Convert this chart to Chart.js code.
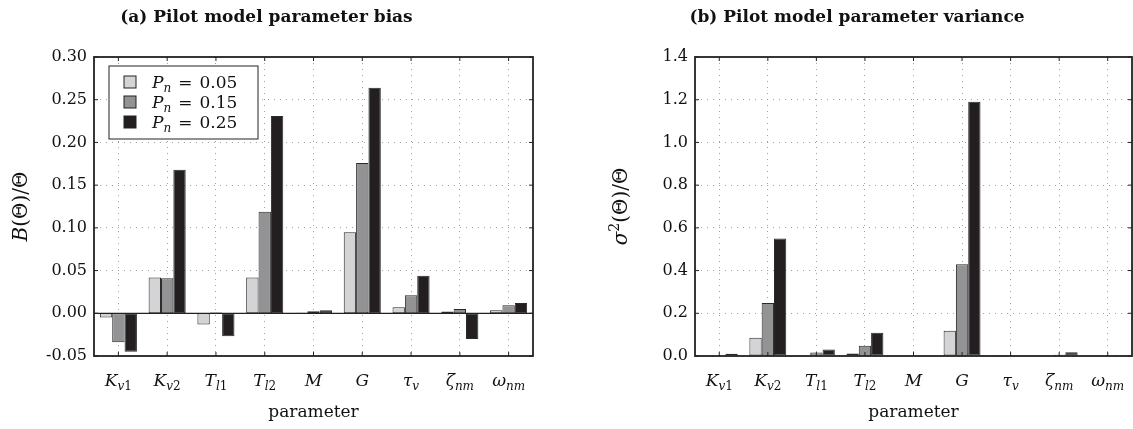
<!DOCTYPE html>
<html>
<head>
<meta charset="utf-8">
<script src="https://cdn.jsdelivr.net/npm/chart.js@4.4.1/dist/chart.umd.min.js"></script>
<style>
html, body { margin: 0; padding: 0; background: #fff; }
#wrap { position: relative; width: 1133px; height: 429px; }
.box { position: absolute; top: 0; height: 429px; }
</style>
</head>
<body>
<div id="wrap">
  <div class="box" style="left:0;width:566px"><canvas id="bias"></canvas></div>
  <div class="box" style="left:566px;width:567px"><canvas id="variance"></canvas></div>
</div>
<script>
// parameter names, split into symbol + subscript
const labelMain = ['K', 'K', 'T', 'T', 'M', 'G', 'τ', 'ζ', 'ω']
const labelSub = ['v1', 'v2', 'l1', 'l2', '', '', 'v', 'nm', 'nm']
const pnValues = ['0.05', '0.15', '0.25']
const barColors = ['#d4d4d6', '#939396', '#231f20']

// (a) bias, normalised
const bias05 = [-0.005, 0.042, -0.013, 0.042, 0.0005, 0.095, 0.007, 0.002, 0.0035]
const bias15 = [-0.034, 0.041, 0.001, 0.119, 0.0025, 0.176, 0.021, 0.005, 0.0095]
const bias25 = [-0.045, 0.168, -0.027, 0.231, 0.0035, 0.264, 0.044, -0.030, 0.012]

// (b) variance, normalised
const var05 = [0.001, 0.085, 0.003, 0.012, 0.001, 0.118, 0.0005, 0.002, 0.001]
const var15 = [0.004, 0.248, 0.016, 0.048, 0.002, 0.43, 0.001, 0.006, 0.002]
const var25 = [0.010, 0.55, 0.030, 0.109, 0.001, 1.19, 0.001, 0.017, 0.005]

const SERIF = '"DejaVu Serif", "Liberation Serif", serif'

function font(seg) {
  return (seg.it ? 'italic ' : '') + (seg.s || 17) + 'px ' + SERIF
}

// draw a list of text pieces (italic / sub / sup) in a row
function richWidth(ctx, segs) {
  let w = 0
  segs.forEach(s => { ctx.font = font(s); w += ctx.measureText(s.t).width + (s.gap || 0) })
  return w
}
function drawRich(ctx, segs, x, y, align) {
  let w = richWidth(ctx, segs)
  let cx = align === 'center' ? x - w / 2 : x
  ctx.textAlign = 'left'
  ctx.textBaseline = 'alphabetic'
  segs.forEach(s => {
    ctx.font = font(s)
    ctx.fillText(s.t, cx, y + (s.dy || 0))
    cx += ctx.measureText(s.t).width + (s.gap || 0)
  })
}

function tickSegs(i) {
  let segs = [{ t: labelMain[i], it: true, s: 17 }]
  for (const ch of labelSub[i]) {
    segs.push({ t: ch, it: /[a-z]/.test(ch), s: 12, dy: 4 })
  }
  return segs
}

const decor = {
  id: 'decor',
  afterDatasetsDraw(chart, args, opts) {
    const ctx = chart.ctx
    const a = chart.chartArea
    const y = chart.scales.y
    const x = chart.scales.x
    ctx.save()
    ctx.strokeStyle = '#222'
    ctx.lineWidth = 1
    // inner tick marks
    y.ticks.forEach(t => {
      const py = y.getPixelForValue(t.value)
      ctx.beginPath()
      ctx.moveTo(a.left, py); ctx.lineTo(a.left + 4, py)
      ctx.moveTo(a.right, py); ctx.lineTo(a.right - 4, py)
      ctx.stroke()
    })
    x.ticks.forEach((t, i) => {
      const px = x.getPixelForTick(i)
      ctx.beginPath()
      ctx.moveTo(px, a.top); ctx.lineTo(px, a.top + 4)
      ctx.moveTo(px, a.bottom); ctx.lineTo(px, a.bottom - 4)
      ctx.stroke()
    })
    if (opts.zeroLine) {
      const py = y.getPixelForValue(0)
      ctx.lineWidth = 1.3
      ctx.beginPath(); ctx.moveTo(a.left, py); ctx.lineTo(a.right, py); ctx.stroke()
    }
    ctx.lineWidth = 1.8
    ctx.strokeRect(a.left, a.top, a.right - a.left, a.bottom - a.top)
    ctx.restore()
  },
  afterDraw(chart, args, opts) {
    const ctx = chart.ctx
    const a = chart.chartArea
    const x = chart.scales.x
    ctx.save()
    ctx.fillStyle = '#111'
    // category labels with subscripts
    x.ticks.forEach((t, i) => {
      drawRich(ctx, tickSegs(i), x.getPixelForTick(i), a.bottom + 30, 'center')
    })
    // rotated y title
    ctx.save()
    ctx.translate(opts.yTitleX, (a.top + a.bottom) / 2)
    ctx.rotate(-Math.PI / 2)
    drawRich(ctx, opts.yTitle, 0, 7, 'center')
    ctx.restore()
    // legend in the upper left corner
    if (opts.legend) {
      const lx = a.left + 15, ly = a.top + 9
      ctx.fillStyle = '#fff'
      ctx.fillRect(lx, ly, 149, 73)
      ctx.strokeStyle = '#222'
      ctx.lineWidth = 1
      ctx.strokeRect(lx, ly, 149, 73)
      chart.data.datasets.forEach((ds, i) => {
        const cy = ly + 16 + i * 20
        ctx.fillStyle = ds.backgroundColor
        ctx.fillRect(lx + 15, cy - 6, 12, 12)
        ctx.strokeRect(lx + 15, cy - 6, 12, 12)
        ctx.fillStyle = '#111'
        drawRich(ctx, [
          { t: 'P', it: true, s: 17 },
          { t: 'n', it: true, s: 12, dy: 4, gap: 7 },
          { t: '=', s: 17, gap: 7 },
          { t: pnValues[i], s: 17 }
        ], lx + 43, cy + 6, 'left')
      })
    }
    ctx.restore()
  }
}

function makeChart(id, cfg) {
  return new Chart(document.getElementById(id), {
    type: 'bar',
    data: {
      labels: labelMain.map((m, i) => m + labelSub[i]),
      datasets: cfg.series.map((d, i) => ({
        label: 'Pn = ' + pnValues[i],
        data: d,
        backgroundColor: barColors[i],
        borderColor: '#2a2a2a',
        borderWidth: 1,
        borderSkipped: false,
        categoryPercentage: 0.76,
        barPercentage: 1.0
      }))
    },
    options: {
      responsive: true,
      maintainAspectRatio: false,
      animation: false,
      layout: { padding: cfg.padding },
      plugins: {
        legend: { display: false },
        tooltip: { enabled: false },
        title: {
          display: true,
          text: cfg.title,
          color: '#111',
          font: { family: SERIF, size: 17, weight: 'bold', lineHeight: 1.2 },
          padding: { top: 7, bottom: 29.6 }
        },
        decor: { yTitle: cfg.yTitle, yTitleX: cfg.yTitleX, legend: cfg.legend, zeroLine: cfg.zeroLine }
      },
      scales: {
        x: {
          ticks: { display: false },
          grid: { offset: false, color: '#a0a0a0', lineWidth: 1, drawTicks: false },
          border: { display: false, dash: [1, 5] },
          title: {
            display: true,
            text: 'parameter',
            color: '#111',
            font: { family: SERIF, size: 17 },
            padding: { top: 0, bottom: 6 }
          },
          afterFit: s => { s.height = 73 }
        },
        y: {
          min: cfg.min,
          max: cfg.max,
          ticks: {
            stepSize: cfg.step,
            color: '#111',
            padding: 7,
            font: { family: SERIF, size: 16 },
            callback: v => (Math.abs(v) < 1e-9 ? 0 : v).toFixed(cfg.digits)
          },
          grid: { color: '#a0a0a0', lineWidth: 1, drawTicks: false },
          border: { display: false, dash: [1, 5] },
          afterFit: s => { s.width = cfg.axisWidth }
        }
      }
    },
    plugins: [decor]
  })
}

makeChart('bias', {
  series: [bias05, bias15, bias25],
  title: '(a) Pilot model parameter bias',
  padding: { left: 0, right: 33, top: 0, bottom: 0 },
  axisWidth: 94,
  min: -0.05, max: 0.30, step: 0.05, digits: 2,
  yTitle: [{ t: 'B', it: true, s: 20 }, { t: '(Θ)/Θ', s: 20 }],
  yTitleX: 20,
  legend: true,
  zeroLine: true
})

makeChart('variance', {
  series: [var05, var15, var25],
  title: '(b) Pilot model parameter variance',
  padding: { left: 16, right: 1, top: 0, bottom: 0 },
  axisWidth: 113,
  min: 0, max: 1.4, step: 0.2, digits: 1,
  yTitle: [{ t: 'σ', it: true, s: 20 }, { t: '2', s: 14, dy: -8 }, { t: '(Θ)/Θ', s: 20 }],
  yTitleX: 54,
  legend: false,
  zeroLine: false
})
</script>
</body>
</html>
